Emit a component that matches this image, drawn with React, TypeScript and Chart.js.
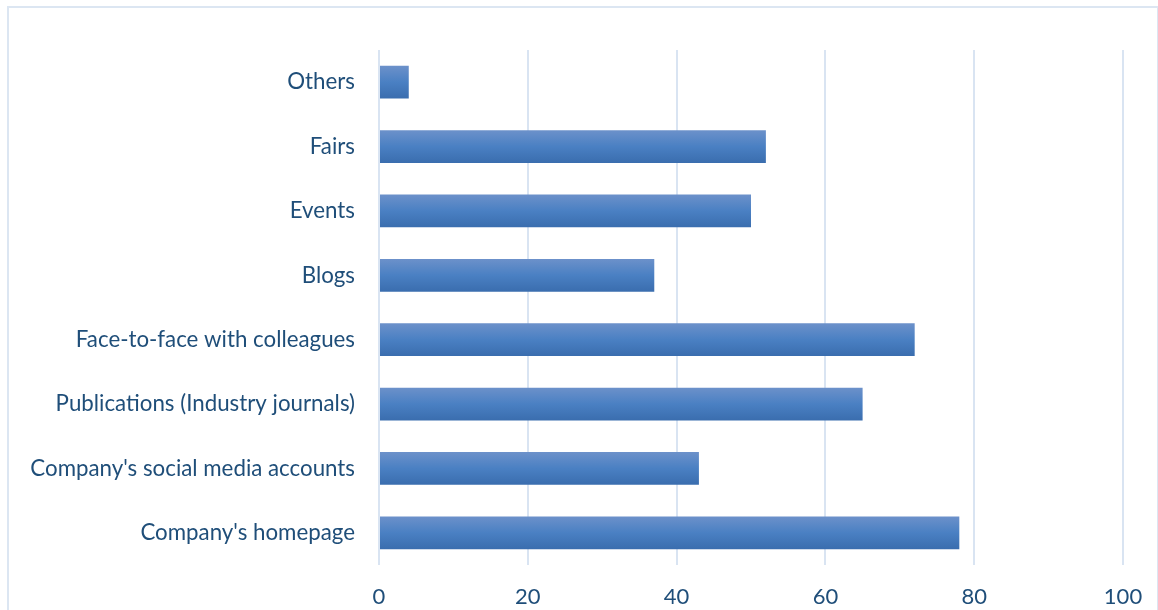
import React, { useEffect, useRef } from "react";
import { Chart, registerables } from "chart.js";

Chart.register(...registerables);

const categories = [
  "Others",
  "Fairs",
  "Events",
  "Blogs",
  "Face-to-face with colleagues",
  "Publications (Industry journals)",
  "Company's social media accounts",
  "Company's homepage",
];
const values = [4, 52, 50, 37, 72, 65, 43, 78];
const xTicks = [0, 20, 40, 60, 80, 100];

const TEXT = "#1F4E79";
const GRID = "#D9E4F2";
const FONT = "Lato, 'Open Sans', sans-serif";

export default function App() {
  const ref = useRef<HTMLCanvasElement | null>(null);

  useEffect(() => {
    if (!ref.current) return;
    const chart = new Chart(ref.current, {
      type: "bar",
      data: {
        labels: categories,
        datasets: [
          {
            data: values,
            categoryPercentage: 1,
            barPercentage: 0.51,
            borderWidth: 0,
            backgroundColor: (ctx: any) => {
              const c = ctx.chart;
              const ys = c.scales && c.scales.y;
              if (!c.chartArea || !ys) return "#4A7FC1";
              const y = ys.getPixelForValue(ctx.dataIndex);
              const step = Math.abs(ys.getPixelForValue(1) - ys.getPixelForValue(0));
              const h = (step * 0.51) / 2;
              const g = c.ctx.createLinearGradient(0, y - h, 0, y + h);
              g.addColorStop(0, "#6C91CA");
              g.addColorStop(0.5, "#4A80C3");
              g.addColorStop(1, "#3A6DAE");
              return g;
            },
          },
        ],
      },
      options: {
        indexAxis: "y",
        animation: false,
        responsive: false,
        maintainAspectRatio: false,
        layout: { padding: { left: 0, right: 35, top: 50, bottom: 0 } },
        plugins: { legend: { display: false }, tooltip: { enabled: false } },
        scales: {
          x: {
            min: 0,
            max: 100,
            afterBuildTicks: (axis: any) => {
              axis.ticks = xTicks.map((v) => ({ value: v }));
            },
            afterFit: (axis: any) => {
              axis.height = 45;
              axis.paddingRight = 0;
              axis.paddingLeft = 0;
            },
            grid: { color: GRID, lineWidth: 2, drawTicks: false },
            border: { display: false },
            ticks: { color: TEXT, font: { family: FONT, size: 22 }, padding: 19 },
          },
          y: {
            afterFit: (axis: any) => {
              axis.width = 379;
            },
            grid: { display: false, drawTicks: false },
            border: { display: false },
            ticks: { color: TEXT, font: { family: FONT, size: 22.3 }, padding: 24 },
          },
        },
      },
    });
    return () => chart.destroy();
  }, []);

  return (
    <div style={{ position: "fixed", left: 0, top: 0, width: 1158, height: 610, background: "#fff", overflow: "hidden" }}>
      <div
        style={{
          position: "absolute",
          left: 7,
          top: 6,
          width: 1148,
          height: 700,
          border: "2px solid #DCE6F2",
        }}
      />
      <canvas ref={ref} width={1158} height={610} style={{ position: "absolute", left: 0, top: 0 }} />
    </div>
  );
}
